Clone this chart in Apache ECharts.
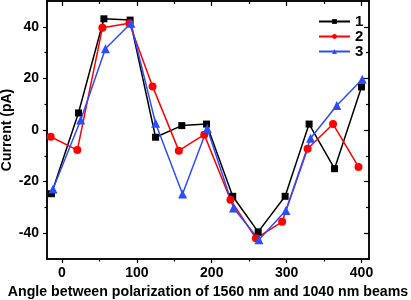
<!DOCTYPE html>
<html><head><meta charset="utf-8">
<script src="https://cdn.jsdelivr.net/npm/echarts@6/dist/echarts.min.js"></script>
<style>html,body{margin:0;padding:0;background:#fff}#c{width:411px;height:300px}</style>
</head><body><div id="c"></div>
<script>
const x1 = [-14, 22, 56, 91, 125, 160, 193, 228, 262, 298, 330, 364, 400];
const y1 = [-24.7, 6.6, 43.1, 42.6, -2.8, 1.7, 2.3, -25.7, -39.5, -25.7, 2.3, -15, 16.7];
const x2 = [-15, 20.5, 54, 90, 121, 156, 190, 225, 259, 294, 328, 362, 396];
const y2 = [-2.6, -7.8, 39.6, 41.4, 16.9, -8, -1.8, -27, -42, -35.6, -7.3, 2.3, -14.3];
const x3 = [-12, 25, 58, 92, 125, 161, 194, 229, 263, 299, 332, 367, 401];
const y3 = [-22.9, 3.9, 31.5, 41.4, 2.6, -24.8, 0.6, -30.2, -42.5, -31.2, -3.2, 9.5, 19.7];
const xMajor = [0, 100, 200, 300, 400];
const xMinor = [50, 150, 250, 350];
const yMajor = [-40, -20, 0, 20, 40];
const yMinor = [-30, -10, 10, 30];
const names = ['1', '2', '3'];

const font = 'Liberation Sans, Arial, sans-serif';
const line = {show: true, onZero: false, lineStyle: {color: '#000', width: 1.5}};
function xa(pos, vals, len, inside, labels) {
  return {type: 'value', min: -20, max: 410, position: pos,
    axisLine: line, splitLine: {show: false},
    axisTick: {show: true, inside: inside, length: len, customValues: vals, lineStyle: {color: '#000', width: 1.2}},
    axisLabel: labels ? {show: true, customValues: vals, color: '#000', fontWeight: 'bold', fontSize: 14, fontFamily: font, margin: 7} : {show: false},
    name: labels ? 'Angle between polarization of 1560 nm and 1040 nm beams' : '',
    nameLocation: 'middle', nameGap: 26, nameMoveOverlap: false,
    nameTextStyle: {color: '#000', fontWeight: 'bold', fontSize: 14.2, fontFamily: font}};
}
function ya(pos, vals, len, inside, labels) {
  return {type: 'value', min: -50, max: 50, position: pos,
    axisLine: line, splitLine: {show: false},
    axisTick: {show: true, inside: inside, length: len, customValues: vals, lineStyle: {color: '#000', width: 1.2}},
    axisLabel: labels ? {show: true, customValues: vals, color: '#000', fontWeight: 'bold', fontSize: 14, fontFamily: font, margin: 8} : {show: false},
    name: labels ? 'Current (pA)' : '',
    nameLocation: 'middle', nameGap: 33, nameRotate: 90, nameMoveOverlap: false,
    nameTextStyle: {color: '#000', fontWeight: 'bold', fontSize: 14, fontFamily: font}};
}
function pairs(xs, ys) { return xs.map((x, i) => [x, ys[i]]); }
const colors = ['#000000', '#ff0000', '#2b4cff'];
const symbols = ['rect', 'circle', 'triangle'];
const sizes = [7, 8, 9];
const datas = [pairs(x1, y1), pairs(x2, y2), pairs(x3, y3)];

const chart = echarts.init(document.getElementById('c'), null, {renderer: 'canvas'});
chart.setOption({
  animation: false,
  backgroundColor: '#fff',
  grid: {left: 47, right: 42, top: 1, bottom: 41, containLabel: false, outerBoundsMode: 'none'},
  xAxis: [xa('bottom', xMajor, 4, false, true), xa('bottom', xMinor, 2.5, false, false),
          xa('top', xMajor, 5, true, false), xa('top', xMinor, 3, true, false)],
  yAxis: [ya('left', yMajor, 4, false, true), ya('left', yMinor, 2.5, false, false),
          ya('right', yMajor, 5, true, false), ya('right', yMinor, 3, true, false)],
  legend: {orient: 'vertical', left: 313, top: 9, itemWidth: 31, itemHeight: 6, itemGap: 0,
    data: names, textStyle: {color: '#000', fontWeight: 'bold', fontSize: 15, fontFamily: font}},
  series: names.map((n, i) => ({
    name: n, type: 'line', data: datas[i], xAxisIndex: 0, yAxisIndex: 0,
    symbol: symbols[i], symbolSize: sizes[i], showAllSymbol: true,
    itemStyle: {color: colors[i]}, lineStyle: {color: colors[i], width: 1.5}
  }))
});
</script></body></html>
